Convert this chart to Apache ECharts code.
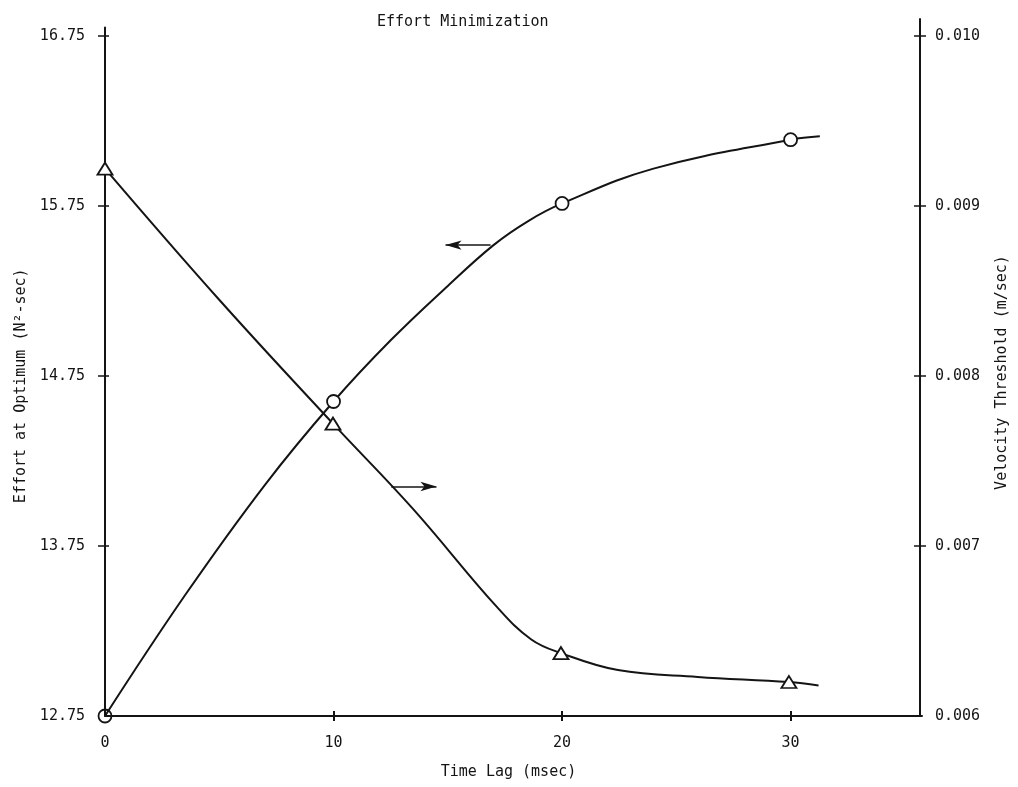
<!DOCTYPE html>
<html>
<head>
<meta charset="utf-8">
<script src="https://cdn.jsdelivr.net/npm/echarts@6/dist/echarts.min.js"></script>
<style>
html,body{margin:0;padding:0;background:#fff;}
#chart{width:1018px;height:787px;}
</style>
</head>
<body>
<div id="chart"></div>
<script>
// ---- data ----
const xTickValues = [0, 10, 20, 30];
const leftTickValues = [12.75, 13.75, 14.75, 15.75, 16.75];
const rightTickValues = [0.006, 0.007, 0.008, 0.009, 0.010];

const lagPoints = [0, 10, 20, 30];
const effortValues = [12.75, 14.60, 15.765, 16.14];
const thresholdValues = [0.00922, 0.00772, 0.00637, 0.00620];

// points
const effortCurveX = [0, 3.5, 7.0, 10, 12.5, 15.0, 17.0, 18.5, 20, 24.0, 30, 31.28];
const effortCurveY = [12.75, 13.46, 14.11, 14.60, 14.96, 15.28, 15.52, 15.66, 15.765, 15.97, 16.14, 16.16];
const thresholdCurveX = [0, 5.0, 10, 13.5, 17.2, 18.7, 20, 22.5, 26.0, 30, 31.3];
const thresholdCurveY = [0.00922, 0.00845, 0.00772, 0.00722, 0.00664, 0.00645, 0.00637, 0.00627, 0.00623, 0.00620, 0.00618];

// arrow annotations (data coordinates)
const effortArrow = [16.87, 14.9, 15.52];      // from x, to x, at y (left axis)
const thresholdArrow = [12.56, 14.54, 0.00735]; // from x, to x, at y (right axis)

const FONT = 'DejaVu Sans Mono';
const INK = '#141414';
const FS = 15;

const chart = echarts.init(document.getElementById('chart'));

const xMin = 0, xMax = 35.75;
const gridCommon = { left: 105, right: 96, bottom: 71 };

const baseX = (gridIndex, show) => ({
  type: 'value', gridIndex, min: xMin, max: xMax, show, position: 'bottom',
  splitLine: { show: false }
});

const option = {
  animation: false,
  backgroundColor: '#fff',
  title: {
    text: 'Effort Minimization',
    left: 372, top: 10,
    textStyle: { fontFamily: FONT, fontSize: FS, fontWeight: 'normal', color: INK }
  },
  grid: [
    Object.assign({ top: 27.5 }, gridCommon),
    Object.assign({ top: 19 }, gridCommon)
  ],
  xAxis: [
    Object.assign(baseX(0, true), {
      name: 'Time Lag (msec)', nameLocation: 'middle', nameGap: 49,
      nameTextStyle: { fontFamily: FONT, fontSize: FS, color: INK, padding: [0, 10, 0, 0] },
      axisLine: { onZero: false, lineStyle: { color: INK, width: 2 } },
      axisTick: { length: 5, lineStyle: { color: INK, width: 2 }, customValues: xTickValues.slice(1) },
      axisLabel: { margin: 20, fontFamily: FONT, fontSize: FS, color: INK, customValues: xTickValues, formatter: v => String(v) }
    }),
    Object.assign(baseX(1, false), { axisLine: { onZero: false } }),
    Object.assign(baseX(0, true), {
      axisLine: { show: false, onZero: false },
      axisTick: { inside: true, length: 5, lineStyle: { color: INK, width: 2 }, customValues: xTickValues.slice(1) },
      axisLabel: { show: false }
    })
  ],
  yAxis: [
    {
      type: 'value', gridIndex: 0, position: 'left', min: 12.75, max: 16.8,
      name: 'Effort at Optimum (N²-sec)', nameLocation: 'middle', nameGap: 74, nameRotate: 90,
      nameTextStyle: { fontFamily: FONT, fontSize: FS, color: INK, padding: [0, 28, 0, 0] },
      splitLine: { show: false },
      axisLine: { show: true, onZero: false, lineStyle: { color: INK, width: 2 } },
      axisTick: { show: true, length: 7, lineStyle: { color: INK, width: 1.5 }, customValues: leftTickValues.slice(1) },
      axisLabel: { margin: 20, fontFamily: FONT, fontSize: FS, color: INK, customValues: leftTickValues, formatter: v => v.toFixed(2) }
    },
    {
      type: 'value', gridIndex: 1, position: 'right', min: 0.006, max: 0.0101,
      name: 'Velocity Threshold (m/sec)', nameLocation: 'middle', nameGap: 75, nameRotate: 90,
      nameTextStyle: { fontFamily: FONT, fontSize: FS, color: INK, padding: [0, 10, 0, 0] },
      splitLine: { show: false },
      axisLine: { show: true, onZero: false, lineStyle: { color: INK, width: 2 } },
      axisTick: { show: true, length: 6, lineStyle: { color: INK, width: 1.5 }, customValues: rightTickValues.slice(1) },
      axisLabel: { margin: 15, fontFamily: FONT, fontSize: FS, color: INK, customValues: rightTickValues, formatter: v => v.toFixed(3) }
    },
    {
      type: 'value', gridIndex: 0, position: 'left', min: 12.75, max: 16.8,
      splitLine: { show: false }, axisLine: { show: false, onZero: false }, axisLabel: { show: false },
      axisTick: { show: true, inside: true, length: 4, lineStyle: { color: INK, width: 1.5 }, customValues: leftTickValues.slice(1) }
    },
    {
      type: 'value', gridIndex: 1, position: 'right', min: 0.006, max: 0.0101,
      splitLine: { show: false }, axisLine: { show: false, onZero: false }, axisLabel: { show: false },
      axisTick: { show: true, inside: true, length: 6, lineStyle: { color: INK, width: 1.5 }, customValues: rightTickValues.slice(1) }
    }
  ],
  series: [
    {
      type: 'line', xAxisIndex: 0, yAxisIndex: 0,
      data: effortCurveX.map((x, i) => [x, effortCurveY[i]]),
      smooth: 0.4, showSymbol: false, symbol: 'none',
      lineStyle: { color: INK, width: 2 }, z: 3,
      markLine: {
        silent: true, symbol: ['none', 'arrow'], symbolSize: [7, 16],
        label: { show: false },
        lineStyle: { color: INK, width: 1.5, type: 'solid' },
        data: [[{ coord: [effortArrow[0], effortArrow[2]] }, { coord: [effortArrow[1], effortArrow[2]] }]]
      }
    },
    {
      type: 'line', xAxisIndex: 1, yAxisIndex: 1,
      data: thresholdCurveX.map((x, i) => [x, thresholdCurveY[i]]),
      smooth: 0.4, showSymbol: false, symbol: 'none',
      lineStyle: { color: INK, width: 2 }, z: 3,
      markLine: {
        silent: true, symbol: ['none', 'arrow'], symbolSize: [7, 16],
        label: { show: false },
        lineStyle: { color: INK, width: 1.5, type: 'solid' },
        data: [[{ coord: [thresholdArrow[0], thresholdArrow[2]] }, { coord: [thresholdArrow[1], thresholdArrow[2]] }]]
      }
    },
    {
      type: 'scatter', xAxisIndex: 0, yAxisIndex: 0,
      symbol: 'circle', symbolSize: 13, z: 5,
      itemStyle: { color: '#fff', borderColor: INK, borderWidth: 1.8, opacity: 1 },
      data: lagPoints.map((x, i) => i === 0
        ? { value: [x, effortValues[i]], itemStyle: { color: 'rgba(0,0,0,0)' } }
        : [x, effortValues[i]])
    },
    {
      type: 'scatter', xAxisIndex: 1, yAxisIndex: 1,
      symbol: 'triangle', symbolSize: [15, 12], z: 5,
      itemStyle: { color: '#fff', borderColor: INK, borderWidth: 1.8, opacity: 1 },
      data: lagPoints.map((x, i) => [x, thresholdValues[i]])
    }
  ]
};

chart.setOption(option);
</script>
</body>
</html>
